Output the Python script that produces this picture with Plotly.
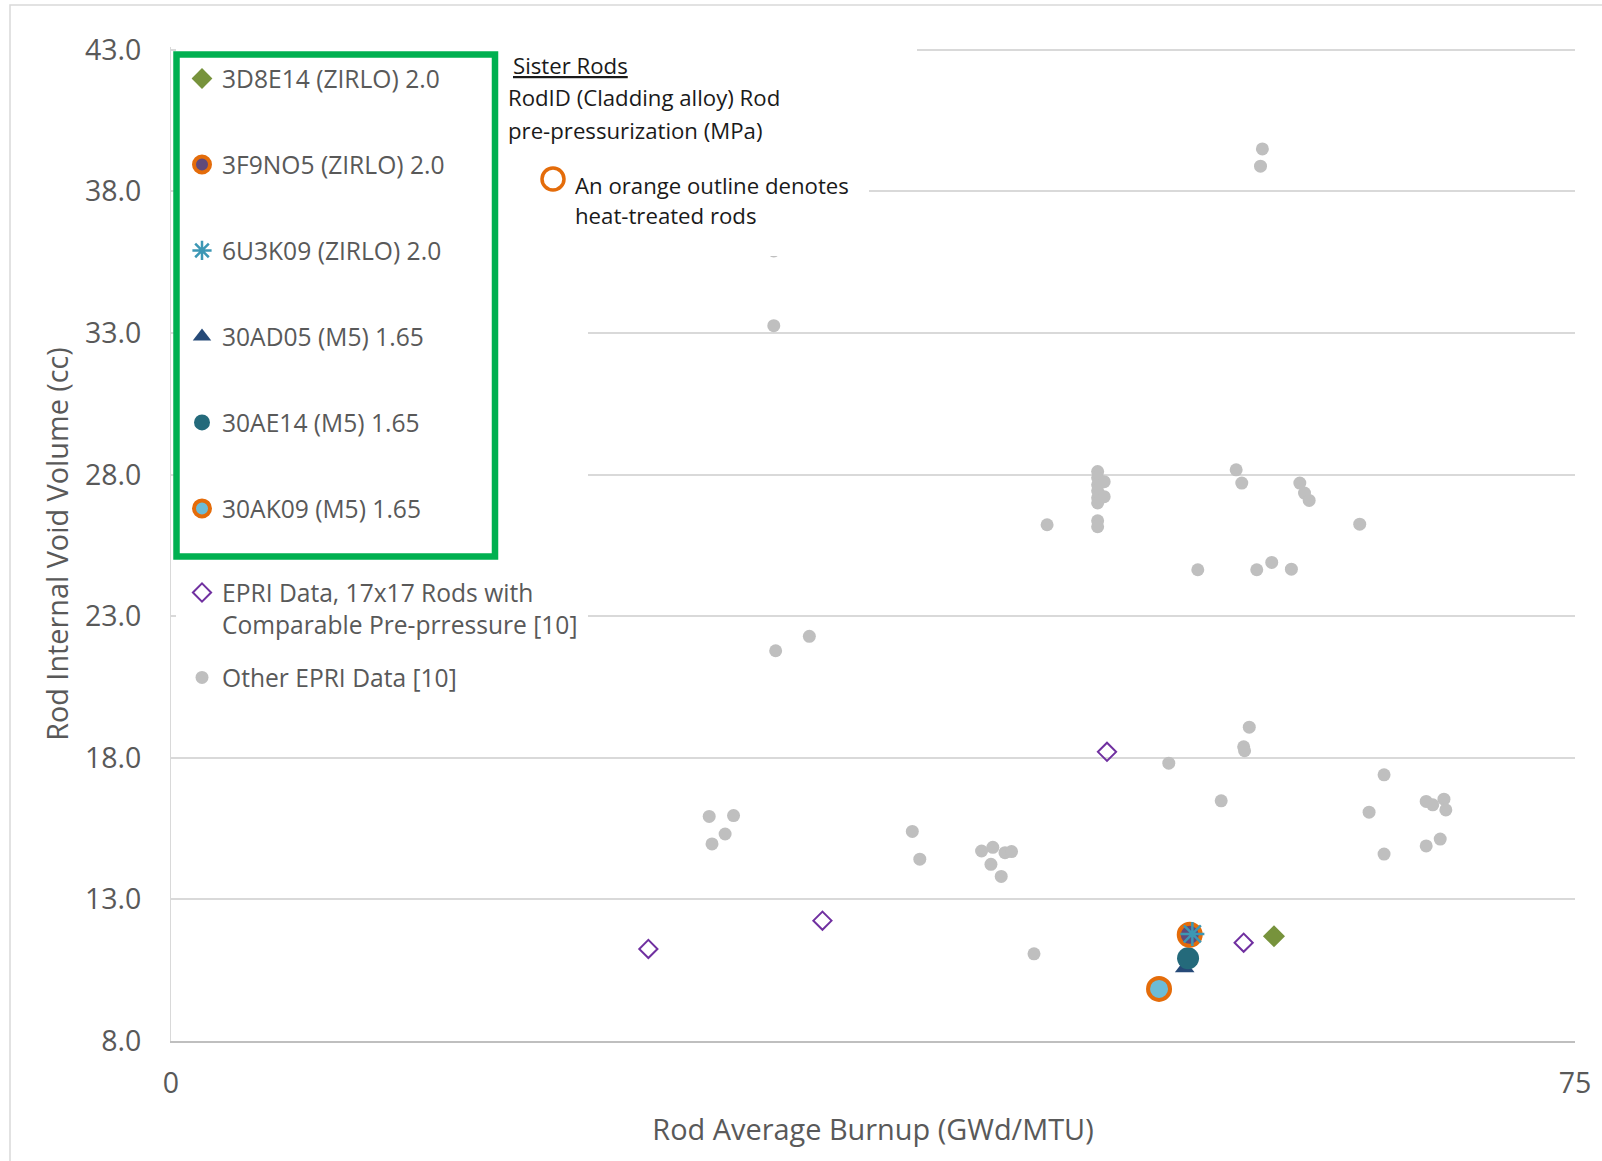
import plotly.graph_objects as go

# ---- data -------------------------------------------------------------
other_x = [32.2, 32.2, 58.3, 58.2, 32.3, 34.1,
           49.5, 49.5, 49.5, 49.5, 49.5, 49.5, 49.85, 49.85, 49.5, 49.5,
           46.8, 56.9, 57.2, 60.3, 60.55, 60.8, 63.5,
           54.85, 58.0, 58.8, 59.85,
           57.6, 57.3, 57.35, 53.3, 56.1,
           64.8, 64.0, 67.05, 67.4, 68.0, 68.1, 67.05, 67.8, 64.8,
           28.75, 30.05, 29.6, 28.9, 39.6, 40.0,
           43.3, 43.9, 44.55, 44.9, 43.8, 44.35, 46.1]
other_y = [33.26, 35.9, 39.50, 38.89, 21.78, 22.29,
           28.11, 27.89, 27.64, 27.43, 27.18, 27.00, 27.75, 27.22, 26.37, 26.16,
           26.23, 28.17, 27.70, 27.70, 27.35, 27.09, 26.25,
           24.64, 24.64, 24.90, 24.66,
           19.08, 18.39, 18.25, 17.81, 16.48,
           17.40, 16.08, 16.46, 16.34, 16.54, 16.16, 14.89, 15.13, 14.60,
           15.93, 15.96, 15.31, 14.96, 15.40, 14.42,
           14.71, 14.84, 14.65, 14.69, 14.24, 13.81, 11.08]

epri_x = [25.5, 34.8, 50.0, 57.3]
epri_y = [11.25, 12.25, 18.21, 11.47]

# sister rods: name, burnup, void volume
rod_names = ["3D8E14 (ZIRLO) 2.0", "3F9NO5 (ZIRLO) 2.0", "6U3K09 (ZIRLO) 2.0",
             "30AD05 (M5) 1.65", "30AE14 (M5) 1.65", "30AK09 (M5) 1.65"]
rod_x = [58.92, 54.42, 54.56, 54.15, 54.33, 52.78]
rod_y = [11.70, 11.75, 11.78, 10.58, 10.92, 9.84]

x_ticks = [0, 75]
y_ticks = [8, 13, 18, 23, 28, 33, 38, 43]
Y_RANGE = [8, 43.1]   # a little headroom so the 43.0 grid line is drawn

# ---- page geometry (pixels) --------------------------------------------
FIG_W, FIG_H = 1602, 1161
L, R, T, B = 171, 27, 47, 120
PW, PH = FIG_W - L - R, FIG_H - T - B


def px_x(px):
    return (px - L) / PW


def px_y(py):
    return (T + PH - py) / PH


FONT = "Open Sans, sans-serif"
GREY_TXT = "#595959"
ORANGE = "#E46C0A"

fig = go.Figure()

fig.add_trace(go.Scatter(
    x=other_x, y=other_y, mode="markers", name="Other EPRI Data [10]",
    marker=dict(symbol="circle", size=13, color="#BFBFBF"),
    legend="legend2", legendgroup="other", legendrank=2))

fig.add_trace(go.Scatter(
    x=epri_x, y=epri_y, mode="markers",
    name="EPRI Data, 17x17 Rods with<br>Comparable Pre-prressure [10]",
    marker=dict(symbol="diamond-open", size=14, color="#7030A0",
                line=dict(width=2, color="#7030A0")),
    legend="legend2", legendgroup="epri", legendrank=1))

rod_style = {
    "30AK09 (M5) 1.65": dict(symbol="circle", size=22, color="#6CBCD6",
                             line=dict(width=4, color=ORANGE)),
    "30AD05 (M5) 1.65": dict(symbol="triangle-up", size=17, color="#264A78"),
    "30AE14 (M5) 1.65": dict(symbol="circle", size=22, color="#246A7B"),
    "3F9NO5 (ZIRLO) 2.0": dict(symbol="circle", size=22, color="#604A7B",
                               line=dict(width=4, color=ORANGE)),
    "6U3K09 (ZIRLO) 2.0": dict(symbol="asterisk-open", size=20, color="#3C97B4",
                               line=dict(width=2.5, color="#3C97B4")),
    "3D8E14 (ZIRLO) 2.0": dict(symbol="diamond", size=17, color="#77933C"),
}
draw_order = ["30AK09 (M5) 1.65", "30AD05 (M5) 1.65", "30AE14 (M5) 1.65",
              "3F9NO5 (ZIRLO) 2.0", "6U3K09 (ZIRLO) 2.0", "3D8E14 (ZIRLO) 2.0"]
for nm in draw_order:
    i = rod_names.index(nm)
    fig.add_trace(go.Scatter(
        x=[rod_x[i]], y=[rod_y[i]], mode="markers", name=nm,
        marker=rod_style[nm], legend="legend", legendgroup=nm,
        legendrank=i + 1))

shapes = [
    # outer chart border
    dict(type="rect", xref="paper", yref="paper",
         x0=px_x(10), x1=px_x(1700), y0=px_y(1300), y1=px_y(5),
         line=dict(color="#D9D9D9", width=1.5), layer="below"),
    # white backing behind the legend block
    dict(type="rect", xref="paper", yref="paper",
         x0=px_x(176), x1=px_x(588), y0=px_y(712), y1=px_y(40),
         fillcolor="white", line=dict(width=0), layer="above"),
    # white backing behind the note text
    dict(type="rect", xref="paper", yref="paper",
         x0=px_x(500), x1=px_x(917), y0=px_y(150), y1=px_y(40),
         fillcolor="white", line=dict(width=0), layer="above"),
    dict(type="rect", xref="paper", yref="paper",
         x0=px_x(500), x1=px_x(869), y0=px_y(256), y1=px_y(150),
         fillcolor="white", line=dict(width=0), layer="above"),
    # green frame around the sister-rod legend
    dict(type="rect", xref="paper", yref="paper",
         x0=px_x(176.5), x1=px_x(495), y0=px_y(556.5), y1=px_y(54.5),
         line=dict(color="#00B050", width=6.5), layer="above"),
    # orange ring key
    dict(type="circle", xref="paper", yref="paper",
         x0=px_x(542), x1=px_x(564), y0=px_y(190), y1=px_y(168),
         line=dict(color=ORANGE, width=3.5), layer="above"),
]

note_font = dict(family=FONT, size=22.2, color="#1A1A1A")
annotations = [
    dict(text="<u>Sister Rods</u>", x=px_x(511), y=px_y(66)),
    dict(text="RodID (Cladding alloy) Rod", x=px_x(506), y=px_y(98)),
    dict(text="pre-pressurization (MPa)", x=px_x(506), y=px_y(130)),
    dict(text="An orange outline denotes", x=px_x(573), y=px_y(185)),
    dict(text="heat-treated rods", x=px_x(573), y=px_y(216)),
]
for a in annotations:
    a.update(xref="paper", yref="paper", xanchor="left", yanchor="middle",
             showarrow=False, font=note_font)

fig.update_layout(
    width=FIG_W, height=FIG_H,
    margin=dict(l=L, r=R, t=T, b=B, pad=0),
    paper_bgcolor="white", plot_bgcolor="white",
    font=dict(family=FONT, color=GREY_TXT),
    shapes=shapes, annotations=annotations,
    xaxis=dict(range=[0, 75], tickvals=x_ticks, showgrid=False,
               showline=True, linecolor="#BFBFBF", linewidth=2,
               zeroline=False, ticks="", ticklabelstandoff=16,
               tickfont=dict(size=28.5, color=GREY_TXT, family=FONT),
               title=dict(text="Rod Average Burnup (GWd/MTU)", standoff=20,
                          font=dict(size=28.9, color=GREY_TXT, family=FONT))),
    yaxis=dict(range=Y_RANGE, tickvals=y_ticks, tickformat=".1f",
               showgrid=True, gridcolor="#D9D9D9", gridwidth=1.5,
               zeroline=False, showline=True, linecolor="#D9D9D9",
               linewidth=1, ticks="", ticklabelstandoff=23,
               tickfont=dict(size=28.5, color=GREY_TXT, family=FONT),
               title=dict(text="Rod Internal Void Volume (cc)", standoff=7.5,
                          font=dict(size=28.8, color=GREY_TXT, family=FONT))),
    legend=dict(x=px_x(182), y=px_y(56), xanchor="left", yanchor="top",
                xref="paper", yref="paper", bgcolor="rgba(0,0,0,0)",
                font=dict(size=24.6, color=GREY_TXT, family=FONT),
                tracegroupgap=51, itemwidth=30, traceorder="grouped"),
    legend2=dict(x=px_x(182), y=px_y(570), xanchor="left", yanchor="top",
                 xref="paper", yref="paper", bgcolor="rgba(0,0,0,0)",
                 font=dict(size=24.6, color=GREY_TXT, family=FONT),
                 tracegroupgap=18, itemwidth=30, valign="top",
                 traceorder="grouped"),
)

fig.write_html("out.html")
